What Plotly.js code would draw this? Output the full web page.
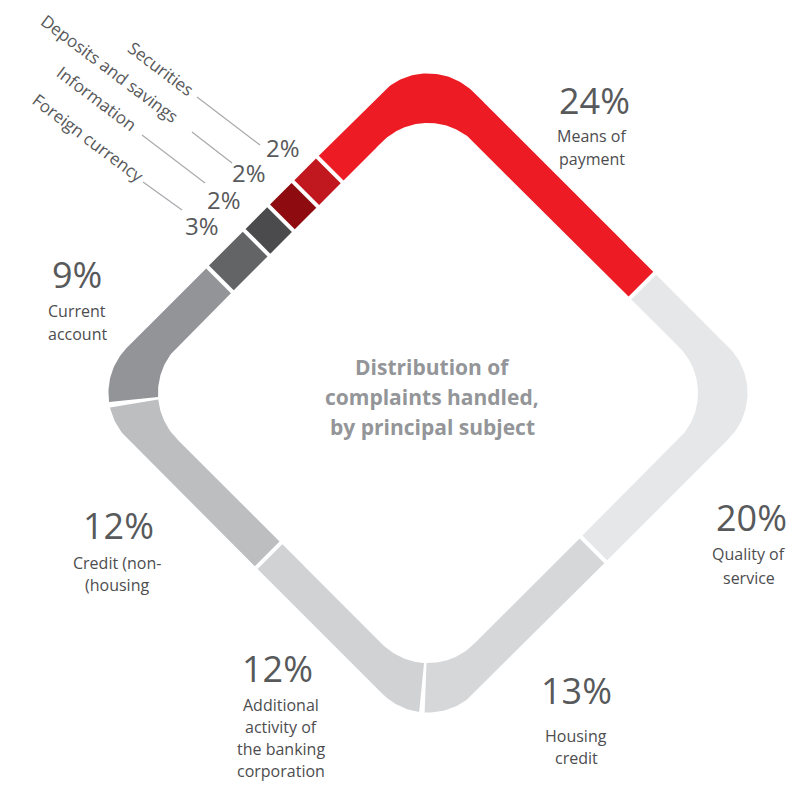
<!DOCTYPE html>
<html>
<head>
<meta charset="utf-8">
<script src="https://cdn.plot.ly/plotly-3.0.1.min.js"></script>
<style>html,body{margin:0;padding:0;background:#fff;}#chart{width:801px;height:785px;}</style>
</head>
<body>
<div id="chart"></div>
<script>
// ---------- DATA ----------
const categories = ["Means of payment","Quality of service","Housing credit","Additional activity of the banking corporation","Credit (non-housing)","Current account","Foreign currency","Information","Deposits and savings","Securities"];
const values = [24, 20, 13, 12, 12, 9, 3, 2, 2, 2];
const pctLabels = ["24%","20%","13%","12%","12%","9%","3%","2%","2%","2%"];
const labelLines = [["Means of","payment"],["Quality of","service"],["Housing","credit"],["Additional","activity of","the banking","corporation"],["Credit (non-","(housing"],["Current","account"],["Foreign currency"],["Information"],["Deposits and savings"],["Securities"]];
const centerTitle = ["Distribution of","complaints handled,","by principal subject"];
const colors = ["#ed1c24","#e6e7e8","#d6d7d8","#d1d2d4","#bcbec0","#929497","#636466","#4b4b4d","#8e0c10","#c1171e"];

// ---------- GEOMETRY (layout) ----------
const CX = 428, CY = 393;
const A_O = 245, R_O = 65, A_I = 210, R_I = 65;
const A_C = (A_O + A_I) / 2, R_C = 65;
const START = -125;   // px along centerline before top apex where first slice begins
const GAP = 4;

const cc = A_C - R_C, straight = 2 * cc, quarter = R_C * Math.PI / 2;
const pieces = [
  {t:'arc', cx:-cc, cy:-cc, a0:225, len:quarter/2},
  {t:'line', x0:-cc, y0:-A_C, dx:1, dy:0, nx:0, ny:-1, len:straight},
  {t:'arc', cx:cc, cy:-cc, a0:270, len:quarter},
  {t:'line', x0:A_C, y0:-cc, dx:0, dy:1, nx:1, ny:0, len:straight},
  {t:'arc', cx:cc, cy:cc, a0:0, len:quarter},
  {t:'line', x0:cc, y0:A_C, dx:-1, dy:0, nx:0, ny:1, len:straight},
  {t:'arc', cx:-cc, cy:cc, a0:90, len:quarter},
  {t:'line', x0:-A_C, y0:cc, dx:0, dy:-1, nx:-1, ny:0, len:straight},
  {t:'arc', cx:-cc, cy:-cc, a0:180, len:quarter/2}
];
const PER = pieces.reduce((s,p)=>s+p.len,0);

function centerAt(s){
  s = ((s % PER) + PER) % PER;
  for (const p of pieces){
    if (s <= p.len || p === pieces[pieces.length-1]){
      if (p.t === 'arc'){
        const th = (p.a0 * Math.PI/180) + s / R_C;
        const nx = Math.cos(th), ny = Math.sin(th);
        return {x:p.cx + R_C*nx, y:p.cy + R_C*ny, nx, ny};
      } else {
        return {x:p.x0 + p.dx*s, y:p.y0 + p.dy*s, nx:p.nx, ny:p.ny};
      }
    }
    s -= p.len;
  }
}
function sdf(px, py, a, r){
  const qx = Math.abs(px) - (a - r), qy = Math.abs(py) - (a - r);
  return Math.hypot(Math.max(qx,0), Math.max(qy,0)) + Math.min(Math.max(qx,qy),0) - r;
}
function solve(P, sign, a, r){
  let lo = 0, hi = 90;
  for (let i=0;i<40;i++){
    const m = (lo+hi)/2;
    const d = sdf(P.x + sign*m*P.nx, P.y + sign*m*P.ny, a, r);
    const inside = d < 0;
    if (sign > 0){ if (inside) lo = m; else hi = m; }
    else { if (inside) hi = m; else lo = m; }
  }
  const m = (lo+hi)/2;
  return [P.x + sign*m*P.nx, P.y + sign*m*P.ny];
}
function toPix(p, q){ return [CX + (p - q)/Math.SQRT2, CY + (p + q)/Math.SQRT2]; }

const total = values.reduce((a,b)=>a+b,0);
const unit = PER / total;
const traces = [];
let cum = 0;
values.forEach((v, i) => {
  const s0 = START + cum*unit + GAP/2, s1 = START + (cum+v)*unit - GAP/2;
  cum += v;
  const n = Math.max(2, Math.ceil((s1 - s0)/1.5));
  const outer = [], inner = [];
  for (let k=0;k<=n;k++){
    const P = centerAt(s0 + (s1-s0)*k/n);
    outer.push(toPix(...solve(P, 1, A_O, R_O)));
    inner.push(toPix(...solve(P, -1, A_I, R_I)));
  }
  const pts = outer.concat(inner.reverse());
  pts.push(pts[0]);
  traces.push({type:'scatter', mode:'lines', x:pts.map(p=>p[0]), y:pts.map(p=>p[1]),
    fill:'toself', fillcolor:colors[i], line:{width:0, color:colors[i]}, hoverinfo:'skip', name:categories[i]});
});

// ---------- LABEL PLACEMENT (layout) ----------
const PCT_FONT = {family:'Open Sans', size:36, color:'#58595b'};
const LAB_FONT = {family:'Open Sans', size:16, color:'#4d4d4f'};
const bigPos = [
  {px:594, py:100, lx:592, ly:136, sp:23},
  {px:751, py:517, lx:749, ly:554, sp:24},
  {px:576, py:690, lx:576, ly:736, sp:22},
  {px:277, py:668, lx:281, ly:705, sp:22},
  {px:118, py:525, lx:117, ly:563, sp:21.5},
  {px:77,  py:274, lx:77,  ly:311, sp:23}
];
const smallPos = [
  {px:202, py:225, lx:88,  ly:137, l:[143,182,182,210]},
  {px:224, py:199, lx:97,  ly:98,  l:[142,135,205,183]},
  {px:249, py:172, lx:110, ly:68,  l:[192,132,232,163]},
  {px:283, py:147, lx:161, ly:68,  l:[197,97,260,145]}
];
const annotations = [];
const shapes = [];
bigPos.forEach((p, i) => {
  annotations.push({x:p.px, y:p.py, xref:'x', yref:'y', text:pctLabels[i], showarrow:false, font:PCT_FONT, xanchor:'center', yanchor:'middle'});
  labelLines[i].forEach((t, j) => {
    annotations.push({x:p.lx, y:p.ly + j*p.sp, xref:'x', yref:'y', text:t, showarrow:false, font:LAB_FONT, xanchor:'center', yanchor:'middle'});
  });
});
smallPos.forEach((p, k) => {
  const i = 6 + k;
  annotations.push({x:p.px, y:p.py, xref:'x', yref:'y', text:pctLabels[i], showarrow:false, font:{family:'Open Sans', size:24, color:'#58595b'}, xanchor:'center', yanchor:'middle'});
  annotations.push({x:p.lx, y:p.ly, xref:'x', yref:'y', text:labelLines[i][0], showarrow:false, textangle:37, font:{family:'Open Sans', size:17, color:'#58595b'}, xanchor:'center', yanchor:'middle'});
  shapes.push({type:'line', xref:'x', yref:'y', x0:p.l[0], y0:p.l[1], x1:p.l[2], y1:p.l[3], line:{color:'#a7a9ac', width:1.2}});
});
centerTitle.forEach((t, j) => {
  annotations.push({x:432, y:367 + j*30, xref:'x', yref:'y', text:t, showarrow:false, font:{family:'Open Sans', size:21, weight:700, color:'#939598'}, xanchor:'center', yanchor:'middle'});
});

const layout = {
  width:801, height:785, margin:{l:0,r:0,t:0,b:0},
  paper_bgcolor:'#ffffff', plot_bgcolor:'#ffffff', showlegend:false, hovermode:false,
  xaxis:{range:[0,801], visible:false, fixedrange:true},
  yaxis:{range:[785,0], visible:false, fixedrange:true},
  annotations, shapes
};
Plotly.newPlot('chart', traces, layout, {displayModeBar:false, staticPlot:true});
</script>
</body>
</html>
